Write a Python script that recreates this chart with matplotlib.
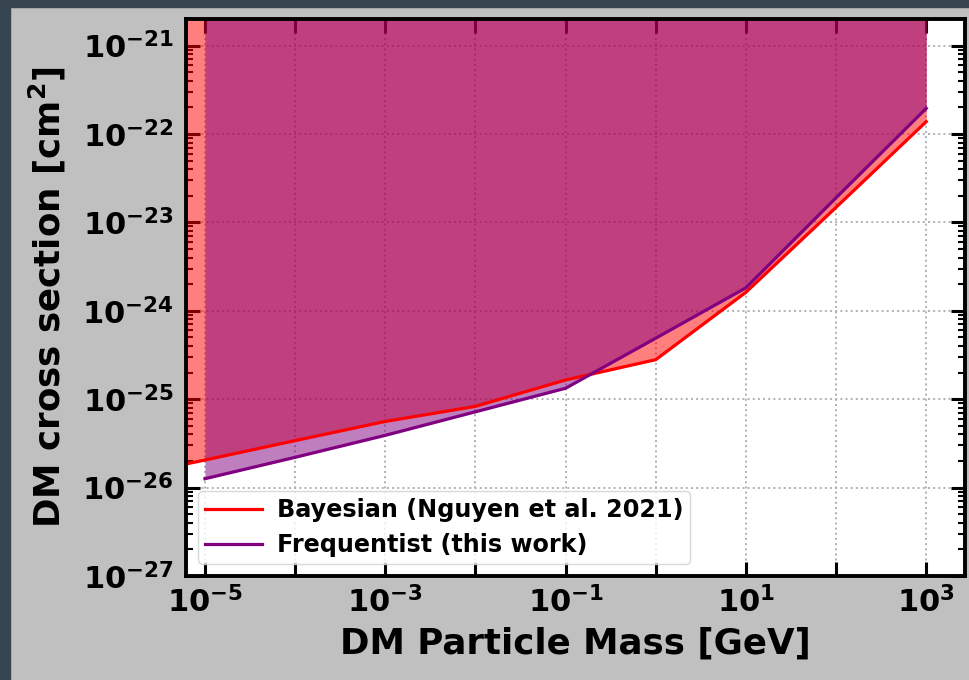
import numpy as np
import matplotlib
matplotlib.use("Agg")
import matplotlib.pyplot as plt
from matplotlib.patches import Rectangle
from matplotlib.ticker import FixedLocator, FuncFormatter, NullFormatter

plt.rcParams['font.family'] = ['DejaVu Sans']
plt.rcParams['font.weight'] = 'bold'
plt.rcParams['mathtext.default'] = 'bf'

# Upper limits on the DM cross section vs particle mass
bayes_mass = [1e-6, 1e-5, 1e-4, 1e-3, 1e-2, 1e-1, 1e0, 1e1, 1e2, 1e3]
bayes_sigma = [1.26e-26, 2.05e-26, 3.4e-26, 5.6e-26, 8.3e-26, 1.65e-25, 2.8e-25, 1.62e-24, 1.48e-23, 1.38e-22]

freq_mass = [1e-5, 1e-4, 1e-3, 1e-2, 1e-1, 1e0, 1e1, 1e2, 1e3]
freq_sigma = [1.26e-26, 2.2e-26, 3.9e-26, 7.2e-26, 1.33e-25, 4.9e-25, 1.82e-24, 1.9e-23, 1.95e-22]

x_decades = list(range(-5, 4))
y_decades = list(range(-27, -20))

sigma_top = 1e-20

fig = plt.figure(figsize=(9.69, 6.8), dpi=100, facecolor='#c0c0c0')
# dark frame strips
fig.patches.append(Rectangle((0, 0), 10 / 969, 1, transform=fig.transFigure,
                             color='#36454f', zorder=0))
fig.patches.append(Rectangle((0, 1 - 7 / 680), 1, 7 / 680, transform=fig.transFigure,
                             color='#36454f', zorder=0))

ax = fig.add_axes([186 / 969, 1 - 576 / 680, (965 - 186) / 969, (576 - 19) / 680])
ax.set_facecolor('white')

ax.fill_between(bayes_mass, bayes_sigma, sigma_top, color='red', alpha=0.5, linewidth=0)
ax.fill_between(freq_mass, freq_sigma, sigma_top, color='purple', alpha=0.5, linewidth=0)
ax.plot(bayes_mass, bayes_sigma, color='red', lw=2.3, label='Bayesian (Nguyen et al. 2021)')
ax.plot(freq_mass, freq_sigma, color='purple', lw=2.3, label='Frequentist (this work)')

ax.set_xscale('log')
ax.set_yscale('log')
ax.set_xlim(10 ** -5.21, 10 ** 3.43)
ax.set_ylim(1e-27, 2e-21)

def decade_label(v, p, every=1):
    e = int(round(np.log10(v)))
    return (r'$\mathbf{10^{%d}}$' % e) if e % every == 0 or (every == 2 and e % 2) else ''

ax.xaxis.set_major_locator(FixedLocator([10.0 ** d for d in x_decades]))
ax.xaxis.set_major_formatter(FuncFormatter(
    lambda v, p: (r'$\mathbf{10^{%d}}$' % round(np.log10(v))) if round(np.log10(v)) % 2 else ''))
ax.xaxis.set_minor_locator(FixedLocator([]))

ax.yaxis.set_major_locator(FixedLocator([10.0 ** d for d in y_decades]))
ax.yaxis.set_major_formatter(FuncFormatter(
    lambda v, p: r'$\mathbf{10^{%d}}$' % round(np.log10(v))))
y_minor = [m * 10.0 ** d for d in y_decades[:-1] for m in range(2, 10)] + [2e-21]
ax.yaxis.set_minor_locator(FixedLocator(y_minor))
ax.yaxis.set_minor_formatter(NullFormatter())

ax.tick_params(which='both', direction='in', top=True, right=True)
ax.tick_params(which='major', length=10, width=2.2, labelsize=22)
ax.tick_params(which='minor', length=5, width=1.5)
ax.tick_params(axis='y', which='major', pad=9)
ax.tick_params(axis='x', which='major', pad=7)

for s in ax.spines.values():
    s.set_linewidth(2.8)

ax.set_axisbelow(True)
ax.grid(True, which='major', linestyle=':', color='#b0b0b0', linewidth=1.4)

ax.set_xlabel('DM Particle Mass [GeV]', fontsize=25.7, fontweight='bold', labelpad=6)
ax.set_ylabel(r'DM cross section [cm$^{2}$]', fontsize=25.7, fontweight='bold', labelpad=10)

leg = ax.legend(loc='lower left', prop={'weight': 'bold', 'size': 17.2},
                handlelength=2.4, handletextpad=0.6, borderpad=0.3,
                borderaxespad=0.5, labelspacing=0.45)
leg.get_frame().set_edgecolor('#d0d0d0')

fig.savefig('out.png', dpi=100, facecolor=fig.get_facecolor())
